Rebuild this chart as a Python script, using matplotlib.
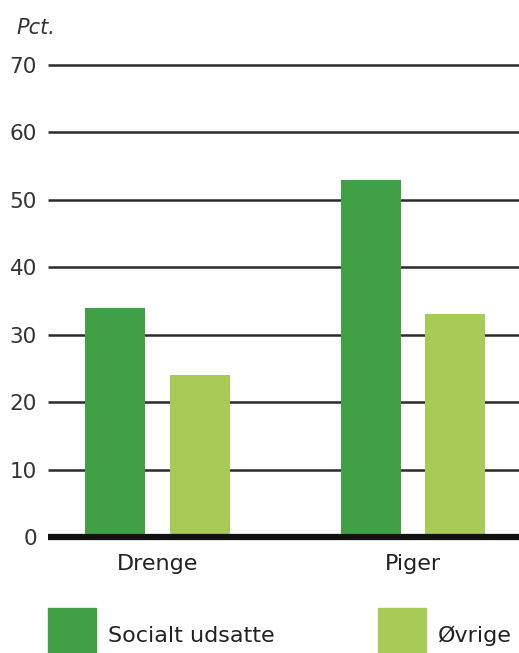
import numpy as np
import matplotlib.pyplot as plt
from matplotlib.patches import Rectangle

categories = ['Drenge', 'Piger']
series_names = ['Socialt udsatte', 'Øvrige']
socialt_udsatte = [34, 53]
oevrige = [24, 33]
yticks = [0, 10, 20, 30, 40, 50, 60, 70]

dark = '#3fa046'
light = '#a8cb58'

W, H = 519, 653
fig = plt.figure(figsize=(W / 100, H / 100), dpi=100)
plt.rcParams['font.family'] = ['DejaVu Sans']

# axes box in pixel terms: left 48, right 519, y=0 at 537, y=70 at 65
ax = fig.add_axes([48 / W, (H - 537) / H, 1 - 48 / W, (537 - 65) / H])

x = np.arange(len(categories))
off = 0.166
bw = 0.235
ax.bar(x - off, socialt_udsatte, bw, color=dark, zorder=2)
ax.bar(x + off, oevrige, bw, color=light, zorder=2)

for t in yticks[1:]:
    ax.axhline(t, color='#2b2b2b', lw=1.8, zorder=1, clip_on=False,
               solid_capstyle='butt')
ax.axhline(0, color='#111111', lw=4.5, zorder=3, clip_on=False,
           solid_capstyle='butt')

ax.set_xlim(-0.4286, 1.415)
ax.set_ylim(0, 70)
ax.set_yticks(yticks)
ax.set_yticklabels([str(t) for t in yticks], fontsize=15.5, color='#333333')
ax.tick_params(axis='y', length=0, pad=8)
ax.set_xticks(x)
ax.set_xticklabels(categories, fontsize=16, color='#222222')
ax.tick_params(axis='x', length=0, pad=12)
for s in ax.spines.values():
    s.set_visible(False)

fig.text(16 / W, 1 - 28 / H, 'Pct.', fontsize=15, style='italic',
         color='#333333', va='center', ha='left')

# legend drawn by hand
for (x0, col, name) in [(48, dark, series_names[0]), (378, light, series_names[1])]:
    fig.patches.append(Rectangle((x0 / W, 0), 48 / W, 45 / H, color=col,
                                 transform=fig.transFigure, figure=fig))
    fig.text((x0 + 60) / W, 1 - 636 / H, name, fontsize=16, color='#222222',
             va='center', ha='left')

fig.savefig('out.png', dpi=100)
